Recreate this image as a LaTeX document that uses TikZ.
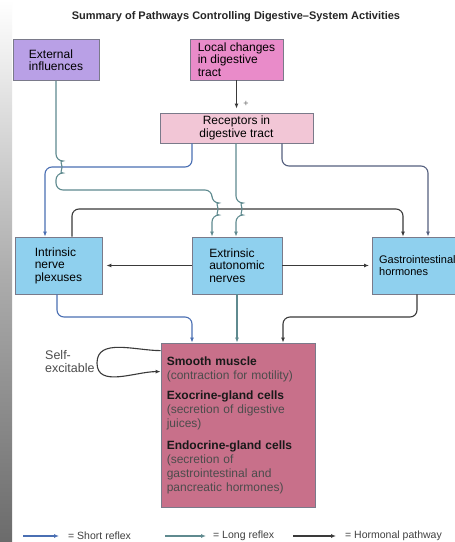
\documentclass[tikz,border=0pt]{standalone}
\usepackage{fontspec}
\setmainfont{Liberation Sans}
\usetikzlibrary{arrows.meta,calc}
\definecolor{extc}{HTML}{B9A0E6}
\definecolor{locc}{HTML}{E98BC9}
\definecolor{recc}{HTML}{F2C6D6}
\definecolor{bluebox}{HTML}{8FD0EE}
\definecolor{effc}{HTML}{C8708A}
\definecolor{shortc}{HTML}{4A6FB3}
\definecolor{longc}{HTML}{5F8A8F}
\definecolor{hormc}{HTML}{3A3A3A}
\definecolor{recgc}{HTML}{55607F}
\definecolor{bordc}{HTML}{7A7A8A}
\tikzset{
  box/.style={draw=bordc, line width=0.8pt, inner sep=3pt, font=\fontsize{12}{12.5}\selectfont},
  conn/.style={line width=1.1pt, rounded corners=7pt, -{Latex[length=5pt,width=4pt]}},
  plain/.style={line width=1.1pt, -{Latex[length=5pt,width=4pt]}},
  legtext/.style={anchor=west, inner sep=0pt, font=\fontsize{10.5}{12}\selectfont, text=black!75}
}
\begin{document}
\begin{tikzpicture}[x=1pt,y=-1pt]
\useasboundingbox (0,0) rectangle (455,542);
\fill[white] (0,0) rectangle (455,542);
\shade[top color=white, bottom color=black!58, middle color=black!32] (0,0) rectangle (12,542);

\node[font=\bfseries\fontsize{11}{13}\selectfont, text=black!85] (title) at (236,17) {Summary of Pathways Controlling Digestive--System Activities};

\node[box, fill=extc, minimum width=86pt, minimum height=41pt, align=left] (ext) at (56,60) {External\\influences};
\node[box, fill=locc, minimum width=93pt, minimum height=41pt, align=left] (loc) at (236.5,59.5) {Local changes\\in digestive\\tract};
\node[box, fill=recc, minimum width=153pt, minimum height=30pt, align=center] (rec) at (236.5,128) {Receptors in\\digestive tract};

\node[box, fill=bluebox, minimum width=87pt, minimum height=57pt, align=left] (intr) at (58.5,265.5) {Intrinsic\\nerve\\plexuses};
\node[box, fill=bluebox, minimum width=90pt, minimum height=57pt, align=left] (extr) at (237,265.5) {Extrinsic\\autonomic\\nerves};
\node[box, fill=bluebox, minimum width=90pt, minimum height=57pt, align=left, anchor=west, font=\fontsize{11}{12.5}\selectfont] (gastro) at (372,265.5) {Gastrointestinal\\hormones};

\node[box, fill=effc, minimum width=154pt, minimum height=164pt] (eff) at (238,425) {};
\node[anchor=north west, align=left, text width=146pt, inner sep=0pt, font=\fontsize{12}{14}\selectfont, text=black!90] (efftext) at ($(eff.north west)+(6,14)$)
{\textbf{Smooth muscle}\\{\color{black!70}(contraction for motility)}\\[6pt]
 \textbf{Exocrine-gland cells}\\{\color{black!70}(secretion of digestive}\\{\color{black!70}juices)}\\[8pt]
 \textbf{Endocrine-gland cells}\\{\color{black!70}(secretion of}\\{\color{black!70}gastrointestinal and}\\{\color{black!70}pancreatic hormones)}};

\node[align=left, anchor=west, inner sep=0pt, font=\fontsize{12.5}{13}\selectfont, text=black!70] (self) at (45,362) {Self-\\excitable};

% local -> receptors
\draw[plain, hormc, shorten >=4pt] (loc.south) -- (rec.north);
\node[font=\fontsize{9}{10}\selectfont, text=black!60] (plus) at (246,104) {+};

% receptors -> intrinsic (short)
\draw[conn, shortc] (192,0 |- rec.south) -- (192,167) -- (45,167) -- (45,0 |- intr.north);
% receptors -> gastro
\draw[conn, recgc] (282,0 |- rec.south) -- (282,166) -- (428,166) -- (428,0 |- gastro.north);
% intrinsic -> gastro (hormonal)
\draw[conn, hormc] (72,0 |- intr.north) -- (72,209) -- (403,209) -- (403,0 |- gastro.north);
% external -> extrinsic (long), with hops
\draw[conn, longc] (56,0 |- ext.south) -- (56,161) arc[start angle=-90, end angle=90, radius=6] -- (56,190) -- (212,190) -- (212,203) arc[start angle=-90, end angle=90, radius=6] -- (212,0 |- extr.north);
% receptors -> extrinsic (long), with hop
\draw[conn, longc] (236,0 |- rec.south) -- (236,203) arc[start angle=-90, end angle=90, radius=6] -- (236,0 |- extr.north);

% extrinsic -> intrinsic / gastro
\draw[plain, hormc, shorten >=4pt] (extr.west) -- (intr.east);
\draw[plain, hormc, shorten >=3pt] (extr.east) -- (gastro.west);

% to effectors
\draw[conn, shortc] (57,0 |- intr.south) -- (57,317) -- (192,317) -- (192,0 |- eff.north);
\draw[conn, longc] (237,0 |- extr.south) -- (237,0 |- eff.north);
\draw[conn, hormc] (417,0 |- gastro.south) -- (417,317) -- (283,317) -- (283,0 |- eff.north);

% self-excitable loop
\draw[line width=1.1pt, hormc, -{Latex[length=5pt,width=4pt]}] ($(eff.north west)+(0,8)$) to[out=180, in=90] (97,363) to[out=-90, in=180] ($(eff.north west)+(0,29)$);

% legend
\coordinate (l1a) at (23,536); \coordinate (l1b) at (59,536);
\coordinate (l2a) at (165,536); \coordinate (l2b) at (206,536);
\coordinate (l3a) at (293,536); \coordinate (l3b) at (336,536);
\draw[plain, shortc] (l1a) -- (l1b);
\draw[plain, longc] (l2a) -- (l2b);
\draw[plain, hormc] (l3a) -- (l3b);
\node[legtext] (t1) at (68,535.5) {= Short reflex};
\node[legtext] (t2) at (213,535.5) {= Long reflex};
\node[legtext] (t3) at (345,535.5) {= Hormonal pathway};
\end{tikzpicture}
\end{document}
